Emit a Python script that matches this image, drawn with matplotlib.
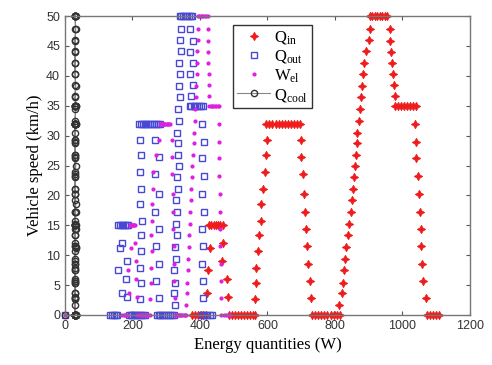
import matplotlib.pyplot as plt

# drive cycle speeds (km/h), one entry per sample
speed = [
    0, 0, 0, 0, 0, 0,
    3.7, 7.5, 11.2,
    15, 15, 15, 15, 15, 15, 15,
    12, 9, 6, 3,
    0, 0, 0, 0, 0, 0, 0, 0, 0, 0,
    2.6, 5.3, 7.8, 10.7, 13.3, 15.8, 18.6, 21.1, 23.9, 26.7, 29.2,
    32, 32, 32, 32, 32, 32, 32, 32, 32, 32, 32, 32,
    29.2, 26.4, 23.5, 20.2, 17.2, 14.3, 11.5, 8.6, 5.7, 2.8,
    0, 0, 0, 0, 0, 0, 0, 0, 0, 0,
    1.7, 3.6, 5.4, 7.5, 9.4, 11.3, 13.3, 15.3, 17.2, 19.2, 21.1, 23.0, 25.0,
    26.8, 28.7, 30.5, 32.5, 34.5, 36.4, 38.3, 40.3, 42.2, 44.2, 46.0, 47.9,
    50, 50, 50, 50, 50, 50, 50, 50,
    47.8, 45.9, 44.0, 42.2, 40.3, 38.5, 36.7,
    35, 35, 35, 35, 35, 35, 35, 35,
    32.0, 29.0, 26.2, 23.3, 20.2, 17.3, 14.4, 11.5, 8.6, 5.7, 2.8,
    0, 0, 0, 0, 0,
]

q_in = [
    378, 386, 394, 402, 410, 418,
    420, 425, 429,
    427, 434, 441, 448, 455, 461, 467,
    467, 464, 480, 482,
    485, 494, 503, 512, 521, 530, 539, 548, 557, 564,
    562, 565, 567, 572, 575, 580, 582, 587, 592, 597, 599,
    597, 606, 615, 624, 633, 642, 651, 660, 669, 678, 687, 696,
    700, 700, 705, 707, 710, 715, 718, 720, 725, 730,
    733, 742, 751, 760, 769, 778, 787, 796, 805, 814,
    813, 821, 823, 828, 831, 833, 838, 843, 848, 851, 855, 858, 860,
    862, 865, 867, 870, 874, 877, 880, 882, 887, 892, 900, 904,
    904, 911, 918, 926, 933, 941, 948, 955,
    962, 964, 966, 969, 971, 974, 978,
    978, 987, 996, 1005, 1014, 1023, 1032, 1040,
    1038, 1040, 1041, 1047, 1050, 1052, 1055, 1055, 1058, 1062, 1070,
    1072, 1081, 1090, 1099, 1108,
]

q_out = [
    0, 135, 140, 145, 150, 155,
    168, 157, 163,
    158, 163, 168, 173, 178, 183, 188,
    170, 183, 182, 185,
    190, 195, 200, 205, 210, 215, 220, 225, 230, 236,
    222, 224, 222, 226, 224, 228, 222, 226, 222, 225, 222,
    219, 225, 230, 236, 241, 247, 253, 258, 264, 270, 275, 281,
    268, 280, 268, 280, 268, 280, 270, 278, 270, 278,
    272, 278, 283, 289, 294, 300, 305, 311, 316, 322,
    325, 322, 327, 324, 329, 326, 331, 328, 333, 330, 335, 332, 337,
    334, 336, 333, 338, 335, 340, 337, 342, 339, 344, 341, 345,
    340, 345, 351, 356, 362, 367, 373, 378,
    372, 380, 372, 380, 372, 380, 375,
    370, 375, 381, 386, 392, 397, 403, 408,
    405, 412, 405, 412, 405, 412, 407, 410, 407, 410, 408,
    405, 413, 421, 429, 437,
]

w_el = [
    0, 170, 174, 178, 182, 186,
    190, 188, 195,
    193, 196, 198, 201, 203, 206, 208,
    209, 210, 212, 213,
    215, 219, 223, 227, 231, 235, 239, 243, 247, 251,
    253, 255, 254, 257, 256, 258, 257, 260, 262, 270, 278,
    282, 285, 287, 290, 293, 295, 298, 301, 303, 306, 308, 311,
    316, 318, 317, 319, 320, 321, 322, 323, 324, 326,
    326, 330, 334, 337, 341, 345, 348, 352, 356, 360,
    360, 362, 363, 365, 366, 368, 369, 371, 372, 374, 375, 377, 378,
    380, 381, 383, 384, 386, 387, 389, 390, 391, 392, 393, 394,
    393, 397, 402, 406, 410, 414, 419, 423,
    423, 424, 424, 425, 426, 427, 428,
    428, 432, 436, 440, 445, 449, 453, 457,
    457, 457, 458, 458, 459, 460, 460, 461, 462, 462, 463,
    463, 470, 477, 484, 490,
]

q_cool = [
    0, 32, 30, 31, 29, 30,
    31, 30, 32,
    30, 29, 31, 30, 32, 30, 31,
    30, 31, 29, 30,
    31, 30, 32, 30, 29, 31, 30, 31, 30, 32,
    30, 31, 29, 30, 31, 30, 32, 30, 31, 29, 30,
    31, 30, 32, 30, 29, 31, 30, 31, 30, 32, 30, 31,
    29, 30, 31, 30, 32, 30, 31, 29, 30, 31,
    30, 32, 30, 29, 31, 30, 31, 30, 32, 30,
    31, 29, 30, 31, 30, 32, 30, 31, 29, 30, 31, 30, 32,
    30, 29, 31, 30, 31, 30, 32, 30, 31, 29, 30, 31,
    30, 32, 30, 29, 31, 30, 31, 30,
    32, 30, 31, 29, 30, 31, 30,
    32, 30, 31, 29, 30, 31, 30, 32,
    30, 29, 31, 30, 31, 30, 32, 30, 31, 29, 30,
    31, 30, 32, 30, 31,
]

plt.rcParams['font.family'] = 'Liberation Sans'
plt.rcParams['mathtext.fontset'] = 'custom'
plt.rcParams['mathtext.rm'] = 'Liberation Serif'

fig = plt.figure(figsize=(4.92, 3.65), dpi=100)
ax = fig.add_axes([0.132, 0.137, 0.823, 0.819])

ax.plot(q_in, speed, linestyle='none', marker=(4, 1, 0), markersize=6,
        color='#ee1c1c', markeredgewidth=0.6, clip_on=False,
        label=r'$\mathrm{Q_{in}}$')
ax.plot(q_out, speed, linestyle='none', marker='s', markersize=5,
        markerfacecolor='none', markeredgecolor='#4848d4', markeredgewidth=1.0,
        clip_on=False, label=r'$\mathrm{Q_{out}}$')
ax.plot(w_el, speed, linestyle='none', marker='.', markersize=4,
        color='#e01ee0', clip_on=False, label=r'$\mathrm{W_{el}}$')
ax.plot(q_cool, speed, linestyle='-', linewidth=0.8, color='#888888',
        marker='o', markersize=4.5, markerfacecolor='none',
        markeredgecolor='#333333', markeredgewidth=1.0, clip_on=False,
        label=r'$\mathrm{Q_{cool}}$')

ax.set_xlim(0, 1200)
ax.set_ylim(0, 50)
ax.set_xticks(range(0, 1201, 200))
ax.set_yticks(range(0, 51, 5))
ax.tick_params(direction='in', top=True, right=True, labelsize=9,
               labelcolor='#333333', color='#555555', length=3)
for s in ax.spines.values():
    s.set_color('#777777')
    s.set_linewidth(1.0)

ax.set_xlabel('Energy quantities (W)', family='Liberation Serif', fontsize=12)
ax.set_ylabel('Vehicle speed (km/h)', family='Liberation Serif', fontsize=12,
              labelpad=2)

leg = ax.legend(loc='upper left', bbox_to_anchor=(0.415, 0.97), fontsize=12,
                frameon=True, fancybox=False, edgecolor='black',
                borderaxespad=0, handlelength=2.0, handletextpad=0.2,
                borderpad=0.25, labelspacing=0.12)
leg.get_frame().set_linewidth(1.0)

fig.savefig('out.png', dpi=100)
